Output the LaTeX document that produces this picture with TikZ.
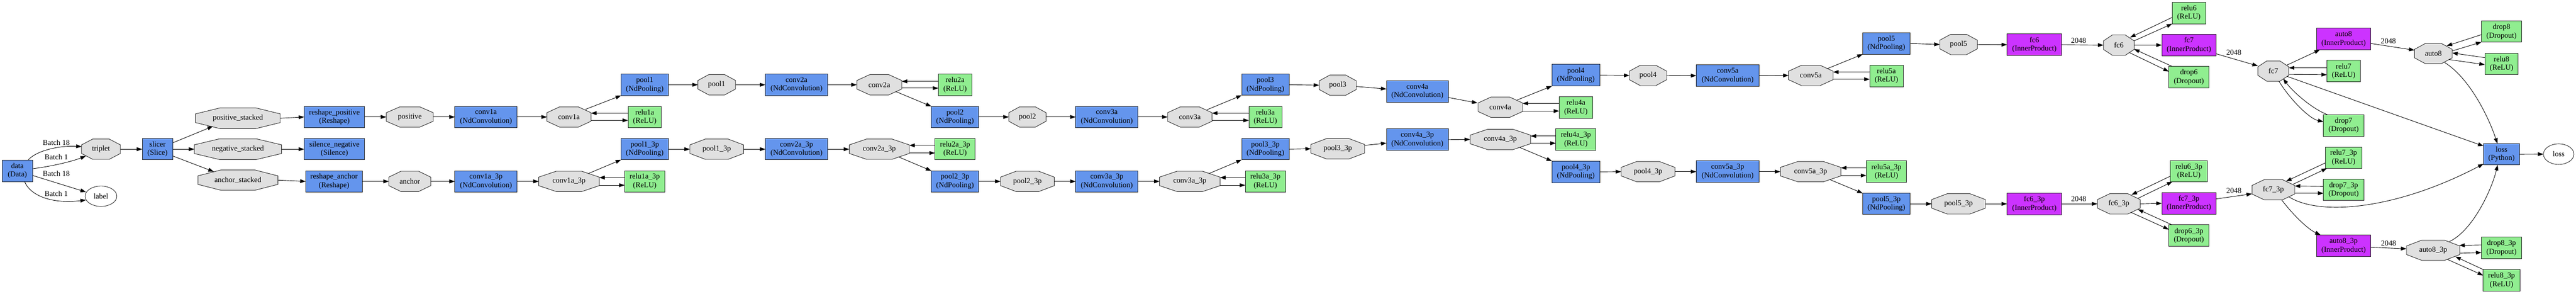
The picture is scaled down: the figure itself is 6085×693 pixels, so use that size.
\documentclass[tikz,border=0pt]{standalone}
\usepackage{fontspec}
\setmainfont{Liberation Serif}
\usetikzlibrary{arrows.meta,calc,shapes.geometric}
\pgfdeclarelayer{background}
\pgfsetlayers{background,main}
\definecolor{cblue}{HTML}{6495ED}
\definecolor{cgreen}{HTML}{90EE90}
\definecolor{cpurple}{HTML}{CC33FF}
\definecolor{cgray}{HTML}{E0E0E0}
\definecolor{bord}{HTML}{222222}
\newcommand\nodefont{\fontsize{17.8}{20}\selectfont}
\newcommand\myocto[1]{\filldraw[octline]
 ($(#1.south west)!0.29!(#1.north west)$) -- ($(#1.south west)!0.71!(#1.north west)$) --
 ($(#1.north west)!0.29!(#1.north east)$) -- ($(#1.north west)!0.71!(#1.north east)$) --
 ($(#1.north east)!0.29!(#1.south east)$) -- ($(#1.north east)!0.71!(#1.south east)$) --
 ($(#1.south east)!0.29!(#1.south west)$) -- ($(#1.south east)!0.71!(#1.south west)$) -- cycle;}
\begin{document}
\begin{tikzpicture}[x=1pt,y=-1pt,
 base/.style={inner sep=0pt, outer sep=0pt, font=\nodefont, align=center},
 sz/.style 2 args={minimum width=#1pt, minimum height=#2pt},
 lay/.style={base, rectangle, draw=bord, fill=cblue, line width=1.1pt},
 relu/.style={base, rectangle, draw=bord, fill=cgreen, line width=1.1pt},
 ip/.style={base, rectangle, draw=bord, fill=cpurple, line width=1.1pt},
 blob/.style={base, rectangle, draw=none},
 ell/.style={base, ellipse, draw=bord, fill=white, line width=1.1pt},
 octline/.style={draw=bord, fill=cgray, line width=1.1pt},
 lbl/.style={inner sep=0pt, font=\nodefont},
 arr/.style={draw=black, line width=1.1pt, -{Triangle[length=13pt,width=9pt]}}]
\useasboundingbox (0,0) rectangle (6085,693);
% nodes
\node[lay,sz={72}{51}] (data) at (41,403) {data\\(Data)};
\node[blob,sz={92}{48}] (trip) at (238.5,352) {triplet};
\node[ell,sz={75}{48}] (lbln) at (238.5,463) {label};
\node[lay,sz={72}{50}] (slicer) at (372,352) {slicer\\(Slice)};
\node[blob,sz={200}{49}] (posst) at (562,279) {positive\_stacked};
\node[blob,sz={206}{49}] (negst) at (562,352) {negative\_stacked};
\node[blob,sz={189}{48}] (ancst) at (562,425) {anchor\_stacked};
\node[lay,sz={143}{50}] (reshpos) at (790,276) {reshape\_positive\\(Reshape)};
\node[lay,sz={143}{50}] (silneg) at (790,352) {silence\_negative\\(Silence)};
\node[lay,sz={134}{50}] (reshanc) at (789,428) {reshape\_anchor\\(Reshape)};
\node[blob,sz={111}{48}] (posn) at (968,276) {positive};
\node[blob,sz={99}{48}] (anch) at (968,428) {anchor};
\node[lay,sz={147}{50}] (c1a) at (1148,276) {conv1a\\(NdConvolution)};
\node[blob,sz={104}{48}] (c1ao) at (1344,276) {conv1a};
\node[lay,sz={112}{51}] (p1) at (1523,200) {pool1\\(NdPooling)};
\node[relu,sz={79}{50}] (r1a) at (1523,276) {relu1a\\(ReLU)};
\node[lay,sz={147}{50}] (c1ap) at (1148,428) {conv1a\_3p\\(NdConvolution)};
\node[blob,sz={143}{48}] (c1apo) at (1344,428) {conv1a\_3p};
\node[lay,sz={112}{50}] (p1p) at (1523,352) {pool1\_3p\\(NdPooling)};
\node[relu,sz={95}{50}] (r1ap) at (1523,428) {relu1a\_3p\\(ReLU)};
\node[blob,sz={89}{48}] (p1o) at (1693,200) {pool1};
\node[lay,sz={147}{51}] (c2a) at (1881.5,200) {conv2a\\(NdConvolution)};
\node[blob,sz={106}{48}] (c2ao) at (2077,200) {conv2a};
\node[blob,sz={127}{48}] (p1po) at (1693,352) {pool1\_3p};
\node[lay,sz={147}{50}] (c2ap) at (1881.5,352) {conv2a\_3p\\(NdConvolution)};
\node[blob,sz={142}{48}] (c2apo) at (2077,352) {conv2a\_3p};
\node[relu,sz={79}{51}] (r2a) at (2256,200) {relu2a\\(ReLU)};
\node[lay,sz={112}{50}] (p2) at (2256,276) {pool2\\(NdPooling)};
\node[blob,sz={88}{48}] (p2o) at (2427,276) {pool2};
\node[lay,sz={147}{50}] (c3a) at (2614.5,276) {conv3a\\(NdConvolution)};
\node[relu,sz={95}{50}] (r2ap) at (2256,352) {relu2a\_3p\\(ReLU)};
\node[lay,sz={112}{50}] (p2p) at (2256,428) {pool2\_3p\\(NdPooling)};
\node[blob,sz={127}{48}] (p2po) at (2427,428) {pool2\_3p};
\node[lay,sz={147}{50}] (c3ap) at (2614.5,428) {conv3a\_3p\\(NdConvolution)};
\node[blob,sz={105}{48}] (c3ao) at (2810.5,276) {conv3a};
\node[lay,sz={112}{50}] (p3) at (2989,200) {pool3\\(NdPooling)};
\node[relu,sz={78}{50}] (r3a) at (2989,276) {relu3a\\(ReLU)};
\node[blob,sz={88}{48}] (p3o) at (3160,201) {pool3};
\node[blob,sz={143}{48}] (c3apo) at (2810.5,428) {conv3a\_3p};
\node[lay,sz={112}{50}] (p3p) at (2989,352) {pool3\_3p\\(NdPooling)};
\node[relu,sz={95}{50}] (r3ap) at (2989,428) {relu3a\_3p\\(ReLU)};
\node[blob,sz={127}{48}] (p3po) at (3160,351) {pool3\_3p};
\node[lay,sz={146}{50}] (c4a) at (3348,216) {conv4a\\(NdConvolution)};
\node[lay,sz={146}{51}] (c4ap) at (3348,329.5) {conv4a\_3p\\(NdConvolution)};
\node[blob,sz={105}{48}] (c4ao) at (3544,253) {conv4a};
\node[lay,sz={113}{51}] (p4) at (3722.5,177.5) {pool4\\(NdPooling)};
\node[relu,sz={79}{51}] (r4a) at (3722.5,253.5) {relu4a\\(ReLU)};
\node[blob,sz={143}{48}] (c4apo) at (3544,329) {conv4a\_3p};
\node[relu,sz={95}{51}] (r4ap) at (3722.5,329) {relu4a\_3p\\(ReLU)};
\node[lay,sz={113}{51}] (p4p) at (3722.5,405.5) {pool4\_3p\\(NdPooling)};
\node[blob,sz={88}{48}] (p4o) at (3893,178) {pool4};
\node[lay,sz={148}{51}] (c5a) at (4081,178.5) {conv5a\\(NdConvolution)};
\node[blob,sz={105}{48}] (c5ao) at (4277.5,178) {conv5a};
\node[lay,sz={112}{51}] (p5) at (4456,102.5) {pool5\\(NdPooling)};
\node[relu,sz={79}{51}] (r5a) at (4456,179) {relu5a\\(ReLU)};
\node[blob,sz={127}{48}] (p4po) at (3893,405) {pool4\_3p};
\node[lay,sz={148}{51}] (c5ap) at (4081,405) {conv5a\_3p\\(NdConvolution)};
\node[blob,sz={143}{48}] (c5apo) at (4277,405) {conv5a\_3p};
\node[relu,sz={95}{51}] (r5ap) at (4456,405) {relu5a\_3p\\(ReLU)};
\node[lay,sz={112}{50}] (p5p) at (4456,481) {pool5\_3p\\(NdPooling)};
\node[blob,sz={89}{48}] (p5o) at (4626.5,105) {pool5};
\node[ip,sz={129}{51}] (fc6) at (4805.5,105.5) {fc6\\(InnerProduct)};
\node[blob,sz={72.5}{48}] (fc6o) at (5005,106.5) {fc6};
\node[blob,sz={127}{48}] (p5po) at (4626.5,481) {pool5\_3p};
\node[ip,sz={129}{51}] (fc6p) at (4805.5,481) {fc6\_3p\\(InnerProduct)};
\node[blob,sz={101}{48}] (fc6po) at (5005,481) {fc6\_3p};
\node[relu,sz={79}{51}] (r6) at (5170.5,30.7) {relu6\\(ReLU)};
\node[ip,sz={128}{51}] (fc7) at (5170.5,106.4) {fc7\\(InnerProduct)};
\node[relu,sz={95}{51}] (d6) at (5170.5,182) {drop6\\(Dropout)};
\node[relu,sz={87}{50}] (r6p) at (5170.5,404) {relu6\_3p\\(ReLU)};
\node[ip,sz={128}{51}] (fc7p) at (5170.5,479.7) {fc7\_3p\\(InnerProduct)};
\node[relu,sz={95}{51}] (d6p) at (5170.5,556) {drop6\_3p\\(Dropout)};
\node[blob,sz={73}{48}] (fc7o) at (5370,167.7) {fc7};
\node[blob,sz={101}{48}] (fc7po) at (5370,447.7) {fc7\_3p};
\node[ip,sz={128}{51}] (a8) at (5536,92) {auto8\\(InnerProduct)};
\node[relu,sz={79}{51}] (r7) at (5536,167.7) {relu7\\(ReLU)};
\node[relu,sz={95}{51}] (d7) at (5536,296) {drop7\\(Dropout)};
\node[relu,sz={87}{50}] (r7p) at (5536,372) {relu7\_3p\\(ReLU)};
\node[relu,sz={95}{50}] (d7p) at (5536,448) {drop7\_3p\\(Dropout)};
\node[ip,sz={128}{51}] (a8p) at (5536,580) {auto8\_3p\\(InnerProduct)};
\node[blob,sz={89}{48}] (a8o) at (5748,126.4) {auto8};
\node[blob,sz={126}{48}] (a8po) at (5747.5,590.5) {auto8\_3p};
\node[relu,sz={95}{50}] (d8) at (5909,74.7) {drop8\\(Dropout)};
\node[relu,sz={79}{50}] (r8) at (5909,150.7) {relu8\\(ReLU)};
\node[lay,sz={85}{50}] (lossb) at (5909,364) {loss\\(Python)};
\node[ell,sz={72}{48.6}] (losse) at (6044,363.7) {loss};
\node[relu,sz={95}{51}] (d8p) at (5909,585) {drop8\_3p\\(Dropout)};
\node[relu,sz={87}{50}] (r8p) at (5909,661.4) {relu8\_3p\\(ReLU)};
% octagon outlines
\begin{pgfonlayer}{background}
\fill[white] (0,0) rectangle (6085,693);
\foreach \n in {trip,posst,negst,ancst,posn,anch,c1ao,c1apo,p1o,c2ao,p1po,c2apo,p2o,p2po,c3ao,p3o,c3apo,p3po,c4ao,c4apo,p4o,c5ao,p4po,c5apo,p5o,fc6o,p5po,fc6po,fc7o,fc7po,a8o,a8po}{\myocto{\n}}
\end{pgfonlayer}
% edges: left part
\draw[arr] ($(data)+(26,-26)$) .. controls +(23,-25) and +(-43,-3) .. ($(trip)+(-45.5,-6)$) node[lbl,pos=0.5,xshift=10.5pt,yshift=15pt]{Batch 18};
\draw[arr] ($(data)+(36,-5)$) .. controls +(43,-5) and +(-33,13) .. ($(trip)+(-35.5,16)$) node[lbl,pos=0.5,xshift=-10.75pt,yshift=16pt]{Batch 1};
\draw[arr] ($(data)+(36,11)$) -- ($(lbln)+(-35.5,-10)$) node[lbl,pos=0.5,xshift=-7pt,yshift=23.5pt]{Batch 18};
\draw[arr] ($(data)+(17,25)$) .. controls +(12,32) and +(-83,10) .. ($(lbln)+(-35.5,9)$) node[lbl,pos=0.5,xshift=29pt,yshift=8.75pt]{Batch 1};
\draw[arr] (trip.east) -- (slicer.west);
\draw[arr] ($(slicer)+(36,-15)$) -- ($(posst)+(-59,19)$);
\draw[arr] (slicer.east) -- (negst.west);
\draw[arr] ($(slicer)+(36,16)$) -- ($(ancst)+(-57,-20)$);
\draw[arr] (posst.east) -- (reshpos.west);
\draw[arr] (negst.east) -- (silneg.west);
\draw[arr] (ancst.east) -- (reshanc.west);
\draw[arr] (reshpos.east) -- (posn.west);
\draw[arr] (reshanc.east) -- (anch.west);
\draw[arr] (posn.east) -- (c1a.west);
\draw[arr] (anch.east) -- (c1ap.west);
% top row
\draw[arr] (c1a.east) -- (c1ao.west);
\draw[arr] ($(c1ao)+(39,-18)$) -- (p1.south west);
\draw[arr] ($(r1a)+(-39.5,-9)$) -- ($(c1ao)+(52,-9)$);
\draw[arr] ($(c1ao)+(52,8)$) -- ($(r1a)+(-39.5,8)$);
\draw[arr] (p1.east) -- (p1o.west);
\draw[arr] (p1o.east) -- (c2a.west);
\draw[arr] (c2a.east) -- (c2ao.west);
\draw[arr] ($(r2a)+(-39.5,-8)$) -- ($(c2ao)+(53,-8)$);
\draw[arr] ($(c2ao)+(53,8)$) -- ($(r2a)+(-39.5,8)$);
\draw[arr] ($(c2ao)+(39,16)$) -- (p2.north west);
\draw[arr] (p2.east) -- (p2o.west);
\draw[arr] (p2o.east) -- (c3a.west);
\draw[arr] (c3a.east) -- (c3ao.west);
\draw[arr] ($(c3ao)+(40.5,-17)$) -- (p3.south west);
\draw[arr] ($(r3a)+(-39,-9)$) -- ($(c3ao)+(52.5,-9)$);
\draw[arr] ($(c3ao)+(52.5,8)$) -- ($(r3a)+(-39,8)$);
\draw[arr] (p3.east) -- (p3o.west);
\draw[arr] ($(p3o)+(44,3)$) -- ($(c4a)+(-73,-6)$);
\draw[arr] ($(c4a)+(73,14)$) -- ($(c4ao)+(-54,-10)$);
\draw[arr] ($(c4ao)+(39.7,-17)$) -- (p4.south west);
\draw[arr] ($(r4a)+(-39.5,-9.5)$) -- ($(c4ao)+(52.5,-9)$);
\draw[arr] ($(c4ao)+(52.5,9)$) -- ($(r4a)+(-39.5,8.5)$);
\draw[arr] (p4.east) -- (p4o.west);
\draw[arr] (p4o.east) -- (c5a.west);
\draw[arr] (c5a.east) -- (c5ao.west);
\draw[arr] ($(c5ao)+(39.5,-16.3)$) -- (p5.south west);
\draw[arr] ($(r5a)+(-39.5,-9)$) -- ($(c5ao)+(52.5,-8)$);
\draw[arr] ($(c5ao)+(52.5,9)$) -- ($(r5a)+(-39.5,8)$);
\draw[arr] (p5.east) -- (p5o.west);
\draw[arr] (p5o.east) -- (fc6.west);
\draw[arr] (fc6.east) -- (fc6o.west) node[lbl,pos=0.5,xshift=-9.5pt,yshift=10pt]{2048};
\draw[arr] ($(r6)+(-39.5,10.3)$) -- ($(fc6o)+(26.7,-18.1)$);
\draw[arr] ($(fc6o)+(36.25,-10.2)$) -- ($(r6)+(-39.5,25.5)$);
\draw[arr] (fc6o.east) -- (fc7.west);
\draw[arr] ($(d6)+(-39.8,-25.5)$) -- ($(fc6o)+(36,9.3)$);
\draw[arr] ($(fc6o)+(26,18.1)$) -- ($(d6)+(-47.5,-13.2)$);
\draw[arr] ($(fc7)+(64,20.4)$) -- ($(fc7o)+(-36.5,-12.1)$) node[lbl,pos=0.5,xshift=-7.3pt,yshift=17pt]{2048};
\draw[arr] ($(fc7o)+(31.7,-13.9)$) -- ($(a8)+(-56,25.5)$);
\draw[arr] ($(r7)+(-39.5,-7.7)$) -- ($(fc7o)+(36.5,-7.7)$);
\draw[arr] ($(fc7o)+(36.5,7.8)$) -- ($(r7)+(-39.5,8.6)$);
\draw[arr] ($(fc7o)+(32.7,12.6)$) -- ($(lossb)+(-42.5,-19.3)$);
\draw[arr] ($(fc7o)+(13.3,24.1)$) .. controls +(26.7,43.2) and +(-33.7,-7.3) .. ($(d7)+(-47.5,-8.7)$);
\draw[arr] ($(d7)+(-38.3,-25.5)$) .. controls +(-37.7,-14.6) and +(21.7,29.4) .. ($(fc7o)+(23.3,17.9)$);
\draw[arr] ($(a8)+(64,10.5)$) -- ($(a8o)+(-44.5,-8)$) node[lbl,pos=0.5,xshift=-10pt,yshift=13.3pt]{2048};
\draw[arr] ($(d8)+(-47.5,7.1)$) -- ($(a8o)+(31.3,-18.1)$);
\draw[arr] ($(a8o)+(44.5,-6.2)$) -- ($(d8)+(-47.5,24.7)$);
\draw[arr] ($(r8)+(-39.5,-14.7)$) -- ($(a8o)+(44.5,-1.4)$);
\draw[arr] ($(a8o)+(37,14.1)$) -- ($(r8)+(-39.5,1.8)$);
\draw[arr] ($(a8o)+(26.3,20.8)$) .. controls +(60.7,37.8) and +(-19.3,-59) .. ($(lossb)+(-9.7,-25)$);
\draw[arr] (lossb.east) -- (losse.west);
% bottom row
\draw[arr] (c1ap.east) -- (c1apo.west);
\draw[arr] ($(c1apo)+(46,-18.6)$) -- (p1p.south west);
\draw[arr] ($(r1ap)+(-47.5,-9)$) -- ($(c1apo)+(71.5,-9)$);
\draw[arr] ($(c1apo)+(71.5,9)$) -- ($(r1ap)+(-47.5,9)$);
\draw[arr] (p1p.east) -- (p1po.west);
\draw[arr] (p1po.east) -- (c2ap.west);
\draw[arr] (c2ap.east) -- (c2apo.west);
\draw[arr] ($(r2ap)+(-47.5,-9)$) -- ($(c2apo)+(71,-9)$);
\draw[arr] ($(c2apo)+(71,9)$) -- ($(r2ap)+(-47.5,9)$);
\draw[arr] ($(c2apo)+(45,18)$) -- (p2p.north west);
\draw[arr] (p2p.east) -- (p2po.west);
\draw[arr] (p2po.east) -- (c3ap.west);
\draw[arr] (c3ap.east) -- (c3apo.west);
\draw[arr] ($(c3apo)+(46.5,-19)$) -- (p3p.south west);
\draw[arr] ($(r3ap)+(-47.5,-9)$) -- ($(c3apo)+(71.5,-9)$);
\draw[arr] ($(c3apo)+(71.5,9)$) -- ($(r3ap)+(-47.5,9)$);
\draw[arr] (p3p.east) -- (p3po.west);
\draw[arr] ($(p3po)+(63.5,-8)$) -- ($(c4ap)+(-73,8.2)$);
\draw[arr] (c4ap.east) -- (c4apo.west);
\draw[arr] ($(r4ap)+(-47.5,-8)$) -- ($(c4apo)+(71.5,-8)$);
\draw[arr] ($(c4apo)+(71.5,9)$) -- ($(r4ap)+(-47.5,9)$);
\draw[arr] ($(c4apo)+(46,19)$) -- (p4p.north west);
\draw[arr] (p4p.east) -- (p4po.west);
\draw[arr] (p4po.east) -- (c5ap.west);
\draw[arr] (c5ap.east) -- (c5apo.west);
\draw[arr] ($(r5ap)+(-47.5,-9)$) -- ($(c5apo)+(71.5,-9)$);
\draw[arr] ($(c5apo)+(71.5,9)$) -- ($(r5ap)+(-47.5,9)$);
\draw[arr] ($(c5apo)+(46,19)$) -- (p5p.north west);
\draw[arr] (p5p.east) -- (p5po.west);
\draw[arr] (p5po.east) -- (fc6p.west);
\draw[arr] (fc6p.east) -- (fc6po.west) node[lbl,pos=0.5,xshift=-2pt,yshift=11pt]{2048};
\draw[arr] ($(r6p)+(-43.5,11.5)$) -- ($(fc6po)+(30,-21.4)$);
\draw[arr] ($(fc6po)+(46,-13.4)$) -- ($(r6p)+(-39,24.7)$);
\draw[arr] (fc6po.east) -- (fc7p.west);
\draw[arr] ($(d6p)+(-39.8,-25.5)$) -- ($(fc6po)+(45,13)$);
\draw[arr] ($(fc6po)+(30,20.6)$) -- ($(d6p)+(-47.5,-14.6)$);
\draw[arr] ($(fc7p)+(64,-10.3)$) -- ($(fc7po)+(-50.5,9.7)$) node[lbl,pos=0.5,yshift=13.4pt]{2048};
\draw[arr] ($(r7p)+(-43.5,12.5)$) -- ($(fc7po)+(30,-19.9)$);
\draw[arr] ($(fc7po)+(47.3,-13.2)$) -- ($(r7p)+(-39.3,25)$);
\draw[arr] ($(d7p)+(-47.5,-8.2)$) -- ($(fc7po)+(50.5,-8.8)$);
\draw[arr] ($(fc7po)+(50.5,8.3)$) -- ($(d7p)+(-47.5,8)$);
\draw[arr] ($(fc7po)+(37.7,17.3)$) .. controls +(72.3,45) and +(-206.7,108.3) .. ($(lossb)+(-42.5,22.7)$);
\draw[arr] ($(fc7po)+(20,24.3)$) .. controls +(25,33) and +(-31.7,-14.7) .. ($(a8p)+(-54.3,-25.5)$);
\draw[arr] ($(a8p)+(64,3.4)$) -- ($(a8po)+(-63,-3.5)$) node[lbl,pos=0.5,yshift=11.3pt]{2048};
\draw[arr] ($(d8p)+(-47.5,-7)$) -- ($(a8po)+(61.8,-11.5)$);
\draw[arr] ($(a8po)+(63,7)$) -- ($(d8p)+(-47.5,10.8)$);
\draw[arr] ($(r8p)+(-42.3,-25)$) -- ($(a8po)+(52.5,15)$);
\draw[arr] ($(a8po)+(33.5,21.5)$) -- ($(r8p)+(-43.5,-11.7)$);
\draw[arr] ($(a8po)+(38.2,-20.5)$) .. controls +(54.3,-25) and +(-15,61) .. ($(lossb)+(-9,25)$);
\end{tikzpicture}
\end{document}
